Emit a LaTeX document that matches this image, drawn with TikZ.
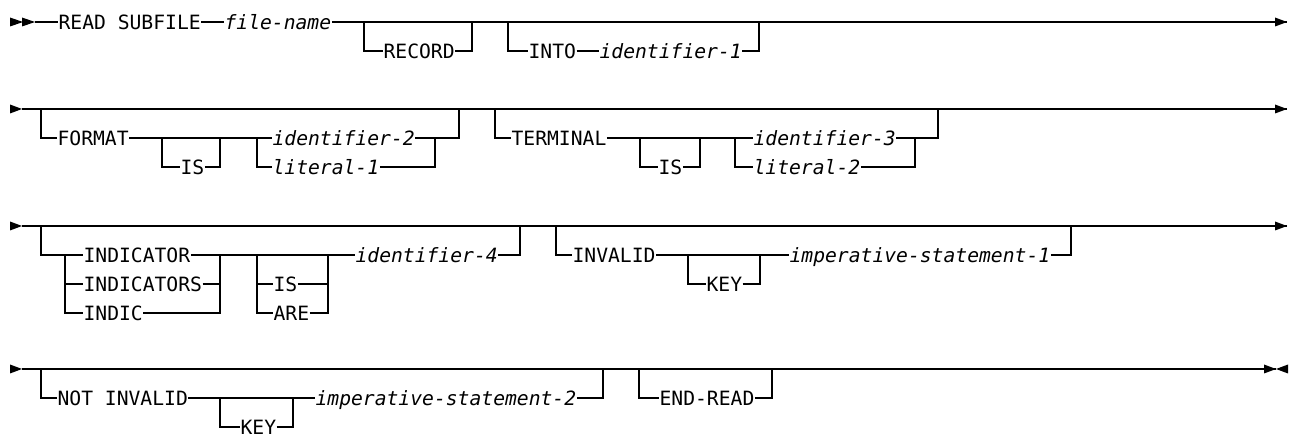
\documentclass[tikz,border=0pt]{standalone}
\usepackage{fontspec}
\newfontfamily\railfont{DejaVu Sans Mono}

\tikzset{
  kw/.style={anchor=west, inner sep=0pt, text height=8.2pt, text depth=0pt,
    font=\railfont\fontsize{11.2pt}{13pt}\selectfont},
  var/.style={kw, font=\railfont\itshape\fontsize{11.2pt}{13pt}\selectfont},
  rail/.style={line width=0.65pt}
}

\begin{document}
\begin{tikzpicture}[x=0.02cm, y=-0.02cm, rail]

\useasboundingbox (0,0) rectangle (1291,438);

% Row 1
\coordinate (s1) at (35,22);
\coordinate (e1) at (1287,22);
\node[kw] (read) at (58,22) {READ SUBFILE};
\node[var] (fname) at (224,22) {file-name};
\coordinate (rec1) at (364,22);
\coordinate (rec2) at (472,22);
\node[kw] (record) at (383,51) {RECORD};
\coordinate (into1) at (508,22);
\coordinate (into2) at (759,22);
\node[kw] (into) at (528,51) {INTO};
\node[var] (id1) at (599,51) {identifier-1};

\draw (s1) -- (read.west);
\draw (read.east) -- (fname.west);
\draw (fname.east) -- (e1);
\draw (rec1) |- (record.west);
\draw (record.east) -| (rec2);
\draw (into1) |- (into.west);
\draw (into.east) -- (id1.west);
\draw (id1.east) -| (into2);

% Row 2
\coordinate (s2) at (22,109);
\coordinate (e2) at (1287,109);
\draw (s2) -- (e2);

% FORMAT
\coordinate (fm1) at (41,109);
\coordinate (fm2) at (459,109);
\node[kw] (format) at (57,138) {FORMAT};
\coordinate (fis1) at (162,138);
\coordinate (fis2) at (220,138);
\node[kw] (fis) at (180,167) {IS};
\coordinate (fch1) at (257,138);
\coordinate (fch2) at (435,138);
\node[var] (id2) at (272,138) {identifier-2};
\node[var] (lit1) at (272,167) {literal-1};

\draw (fm1) |- (format.west);
\draw (format.east) -- (id2.west);
\draw (fis1) |- (fis.west);
\draw (fis.east) -| (fis2);
\draw (fch1) |- (lit1.west);
\draw (lit1.east) -| (fch2);
\draw (id2.east) -| (fm2);

% TERMINAL
\coordinate (tm1) at (495,109);
\coordinate (tm2) at (938,109);
\node[kw] (terminal) at (511,138) {TERMINAL};
\coordinate (tis1) at (640,138);
\coordinate (tis2) at (700,138);
\node[kw] (tis) at (658,167) {IS};
\coordinate (tch1) at (735,138);
\coordinate (tch2) at (915,138);
\node[var] (id3) at (753,138) {identifier-3};
\node[var] (lit2) at (753,167) {literal-2};

\draw (tm1) |- (terminal.west);
\draw (terminal.east) -- (id3.west);
\draw (tis1) |- (tis.west);
\draw (tis.east) -| (tis2);
\draw (tch1) |- (lit2.west);
\draw (lit2.east) -| (tch2);
\draw (id3.east) -| (tm2);

% Row 3
\coordinate (s3) at (22,226);
\coordinate (e3) at (1287,226);
\draw (s3) -- (e3);

% INDICATOR
\coordinate (ind1) at (41,226);
\coordinate (ind2) at (520,226);
\coordinate (indc1) at (65,255);
\coordinate (indc2) at (220,255);
\node[kw] (indicator) at (83,255) {INDICATOR};
\node[kw] (indicators) at (83,284) {INDICATORS};
\node[kw] (indic) at (83,313) {INDIC};
\coordinate (ia1) at (257,255);
\coordinate (ia2) at (328,255);
\node[kw] (is3) at (273,284) {IS};
\node[kw] (are) at (273,313) {ARE};
\node[var] (id4) at (355,255) {identifier-4};

\draw (ind1) |- (indicator.west);
\draw (indc1) |- (indic.west);
\draw (indc1 |- indicators.west) -- (indicators.west);
\draw (indicators.east) -| (indc2);
\draw (indic.east) -| (indc2);
\draw (indicator.east) -- (id4.west);
\draw (ia1) |- (are.west);
\draw (ia1 |- is3.west) -- (is3.west);
\draw (is3.east) -| (ia2);
\draw (are.east) -| (ia2);
\draw (id4.east) -| (ind2);

% INVALID
\coordinate (inv1) at (556,226);
\coordinate (inv2) at (1071,226);
\node[kw] (invalid) at (572,255) {INVALID};
\coordinate (ik1) at (688,255);
\coordinate (ik2) at (760,255);
\node[kw] (ikey) at (706,284) {KEY};
\node[var] (imp1) at (789,255) {imperative-statement-1};

\draw (inv1) |- (invalid.west);
\draw (invalid.east) -- (imp1.west);
\draw (ik1) |- (ikey.west);
\draw (ikey.east) -| (ik2);
\draw (imp1.east) -| (inv2);

% Row 4
\coordinate (s4) at (22,369);
\coordinate (e4) at (1276,369);
\draw (s4) -- (e4);
\draw[line width=1.1pt] (777,369) -- (800,369);

% NOT INVALID
\coordinate (ni1) at (41,369);
\coordinate (ni2) at (603,369);
\node[kw] (notinv) at (57,398) {NOT INVALID};
\coordinate (nk1) at (220,398);
\coordinate (nk2) at (293,398);
\node[kw] (nkey) at (240,427) {KEY};
\node[var] (imp2) at (315,398) {imperative-statement-2};

\draw (ni1) |- (notinv.west);
\draw (notinv.east) -- (imp2.west);
\draw (nk1) |- (nkey.west);
\draw (nkey.east) -| (nk2);
\draw (imp2.east) -| (ni2);

% END-READ
\coordinate (er1) at (639,369);
\coordinate (er2) at (772,369);
\node[kw] (endread) at (659,398) {END-READ};

\draw (er1) |- (endread.west);
\draw (endread.east) -| (er2);

% Start and end markers
\fill (23,22) -- ++(-13,-4.5) -- ++(0,9) -- cycle;
\fill (35,22) -- ++(-13,-4.5) -- ++(0,9) -- cycle;
\foreach \y in {109,226,369}{
\fill (22,\y) -- ++(-12,-4.5) -- ++(0,9) -- cycle;
}
\foreach \y in {22,109,226}{
\fill (1287,\y) -- ++(-12,-4.5) -- ++(0,9) -- cycle;
}
\fill (e4) -- ++(-12,-4.5) -- ++(0,9) -- cycle;
\fill (e4) -- ++(12,-4.5) -- ++(0,9) -- cycle;

\end{tikzpicture}
\end{document}
